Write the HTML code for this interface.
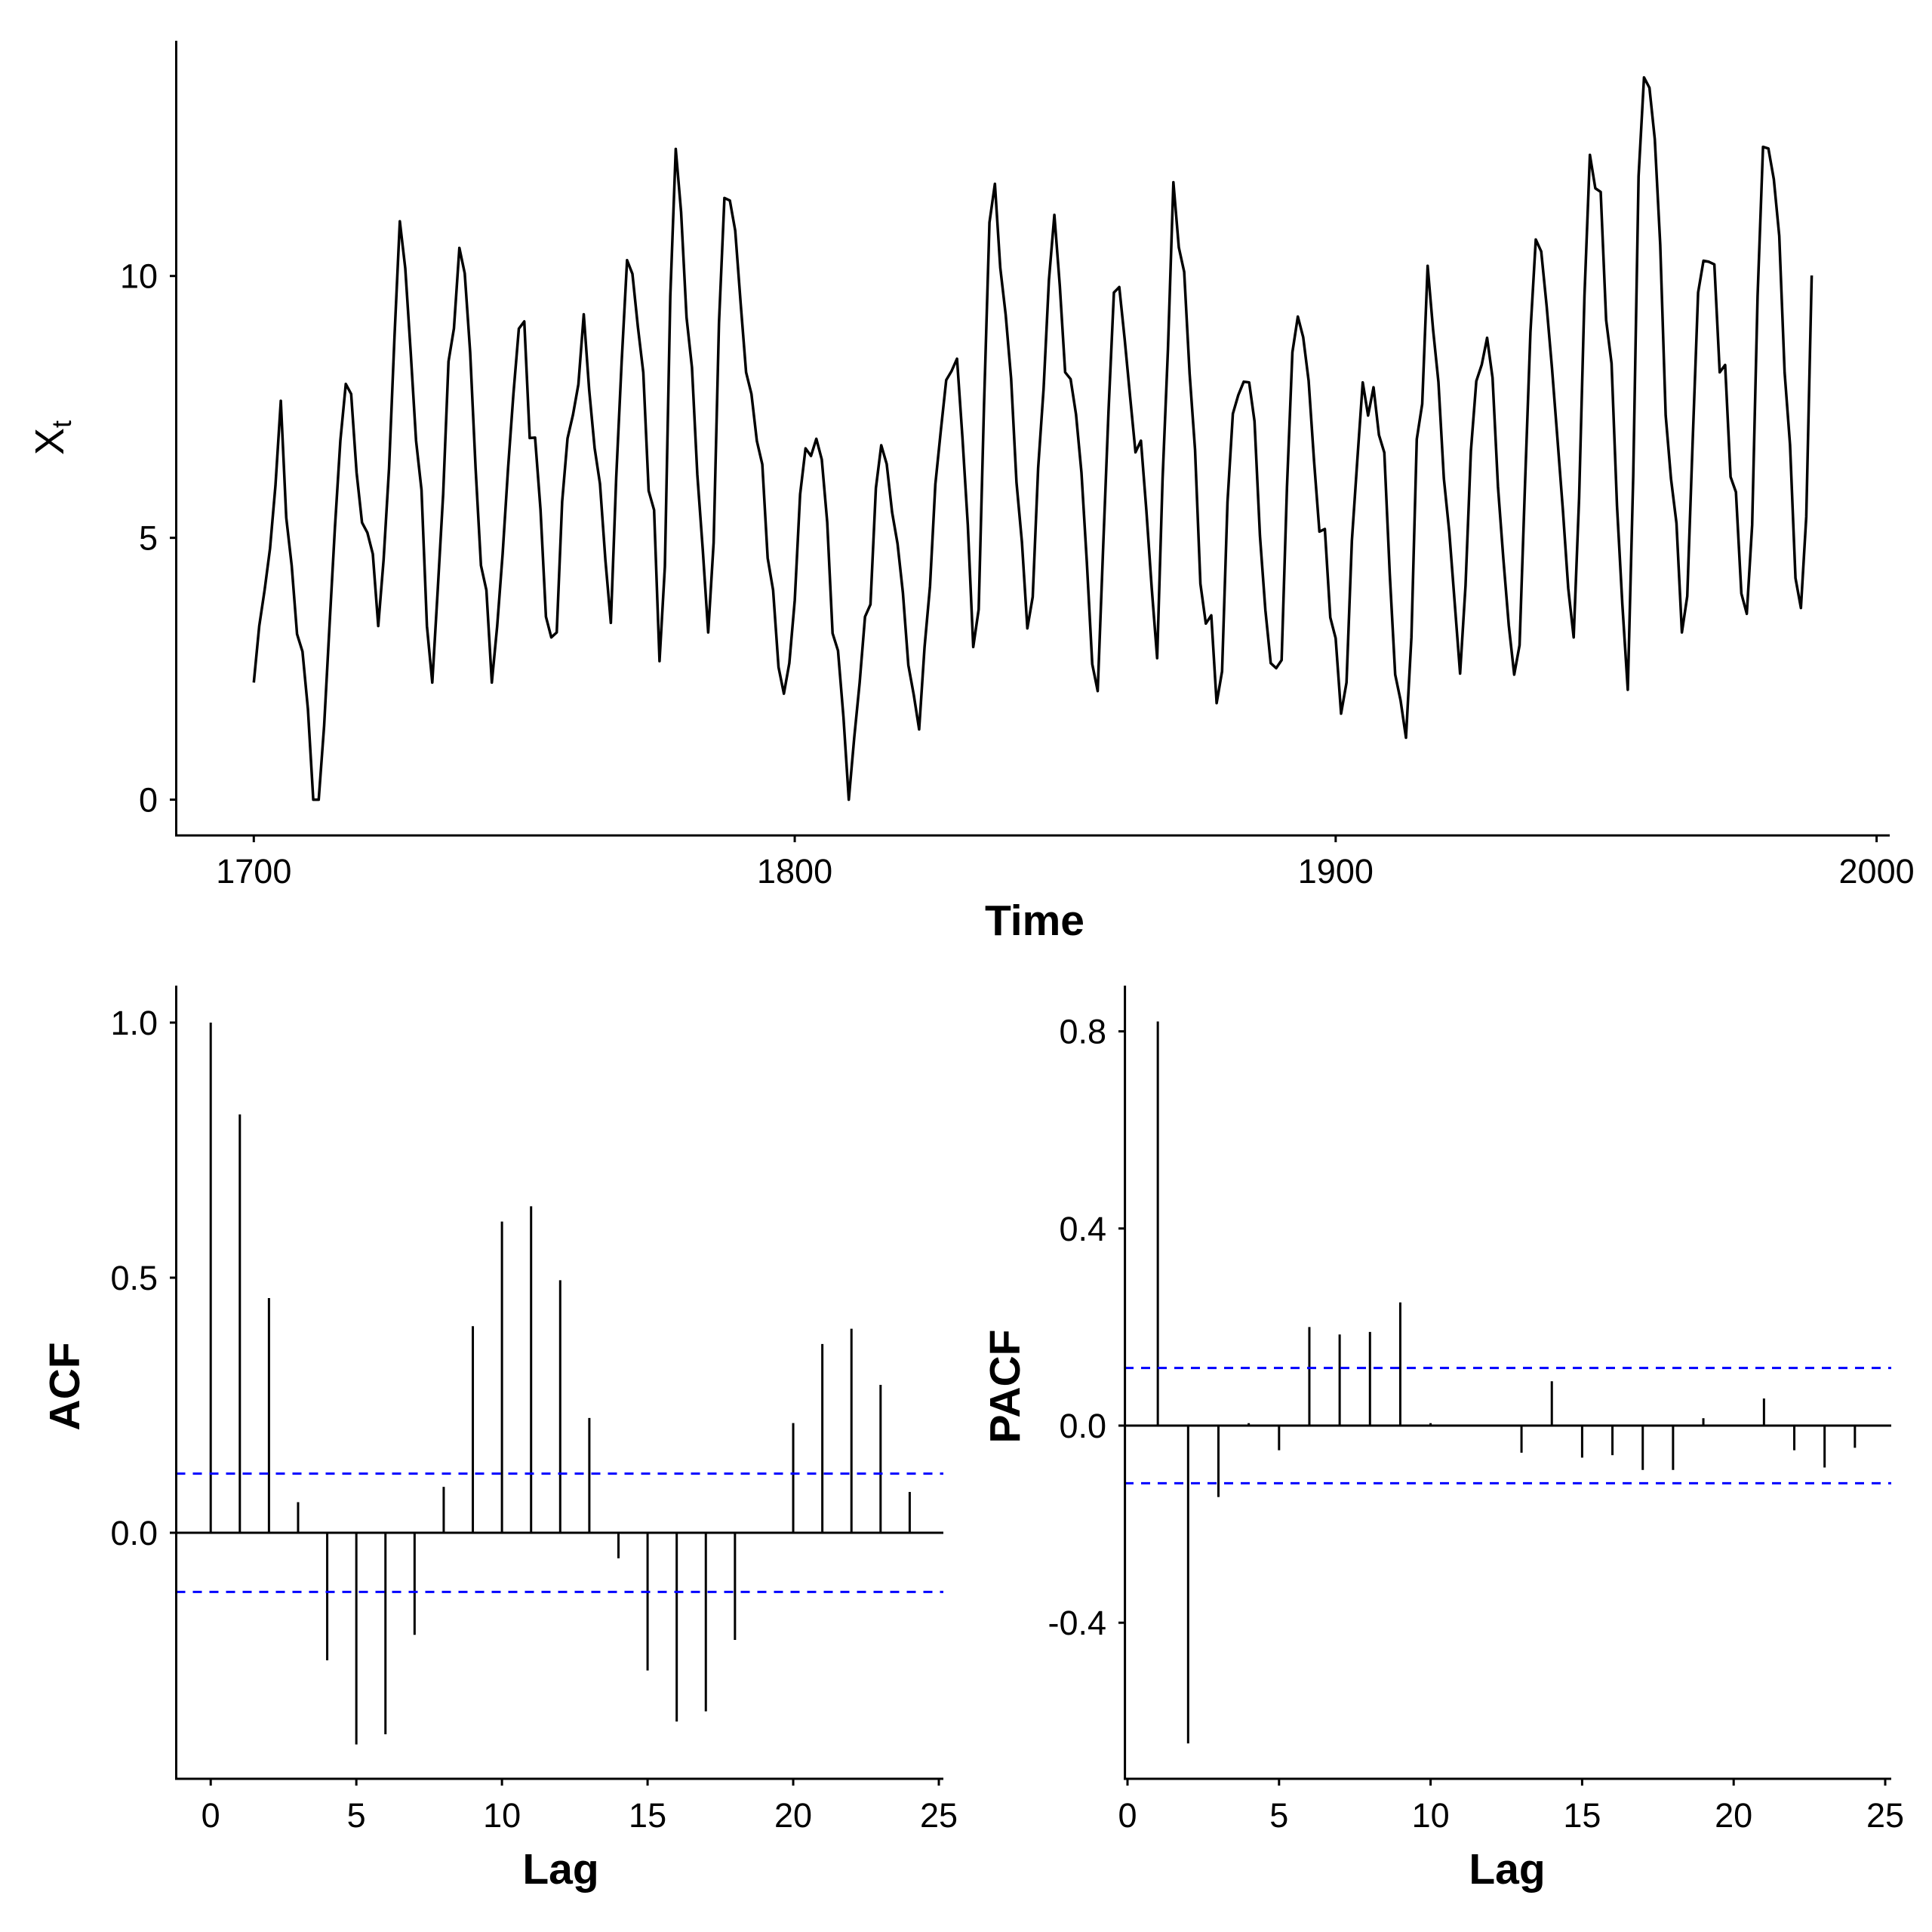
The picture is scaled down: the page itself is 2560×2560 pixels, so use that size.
<!DOCTYPE html>
<html><head><meta charset="utf-8"><style>html,body{margin:0;padding:0;background:#fff}svg{display:block}text{font-family:"Liberation Sans",Arial,sans-serif;fill:#000}</style></head>
<body>
<svg id="s" width="2560" height="2560" viewBox="0 0 2560 2560" xmlns="http://www.w3.org/2000/svg"></svg>
<script>
const d=[5,11,16,23,36,58,29,20,10,8,3,0,0,2,11,27,47,63,60,39,28,26,22,11,21,40,78,122,103,73,47,35,11,5,16,34,70,81,111,101,73,40,20,16,5,11,22,40,60,80.9,83.4,47.7,47.8,30.7,12.2,9.6,10.2,32.4,47.6,54.0,62.9,85.9,61.2,45.1,36.4,20.9,11.4,37.8,69.8,106.1,100.8,81.6,66.5,34.8,30.6,7.0,19.8,92.5,154.4,125.9,84.8,68.1,38.5,22.8,10.2,24.1,82.9,132.0,130.9,118.1,89.9,66.6,60.0,46.9,41.0,21.3,16.0,6.4,4.1,6.8,14.5,34.0,45.0,43.1,47.5,42.2,28.1,10.1,8.1,2.5,0.0,1.4,5.0,12.2,13.9,35.4,45.8,41.1,30.1,23.9,15.6,6.6,4.0,1.8,8.5,16.6,36.3,49.6,64.2,67.0,70.9,47.8,27.5,8.5,13.2,56.9,121.5,138.3,103.2,85.7,64.6,36.7,24.2,10.7,15.0,40.1,61.5,98.5,124.7,96.3,66.6,64.5,54.1,39.0,20.6,6.7,4.3,22.7,54.8,93.8,95.8,77.2,59.1,44.0,47.0,30.5,16.3,7.3,37.6,74.0,139.0,111.2,101.6,66.2,44.7,17.0,11.3,12.4,3.4,6.0,32.3,54.3,59.7,63.7,63.5,52.2,25.4,13.1,6.8,6.3,7.1,35.6,73.0,85.1,78.0,64.0,41.8,26.2,26.7,12.1,9.5,2.7,5.0,24.4,42.0,63.5,53.8,62.0,48.5,43.9,18.6,5.7,3.6,1.4,9.6,47.4,57.1,103.9,80.6,63.6,37.6,26.1,14.2,5.8,16.7,44.3,63.9,69.0,77.8,64.9,35.7,21.2,11.1,5.7,8.7,36.1,79.7,114.4,109.6,88.8,67.8,47.5,30.6,16.3,9.6,33.2,92.6,151.6,136.3,134.7,83.9,69.4,31.5,13.9,4.4,38.0,141.7,190.2,184.8,159.0,112.3,53.9,37.5,27.9,10.2,15.1,47.0,93.8,105.9,105.5,104.5,66.6,68.9,38.0,34.5,15.5,12.6,27.5,92.5,155.4,154.6,140.4,115.9,66.6,45.9,17.9,13.4,29.2,100.2];
let h='';
const L=(x1,y1,x2,y2,w=3,c='#000',da='')=>h+=`<line x1="${x1}" y1="${y1}" x2="${x2}" y2="${y2}" stroke="${c}" stroke-width="${w}" ${da?`stroke-dasharray="${da}"`:''}/>`;
const T=(x,y,t,a='middle',fs=45,b='',r='')=>h+=`<text x="${x}" y="${y}" font-size="${fs}" text-anchor="${a}" ${b?'font-weight="bold"':''} ${r}>${t}</text>`;
const tx=y=>336.3+(y-1700)*(2486.6-336.3)/300, ty=v=>1059.6-v*(1059.6-365.7)/10;
let p=d.map((v,i)=>`${tx(1700+i).toFixed(1)},${ty(Math.sqrt(v)).toFixed(1)}`).join(' ');
h+=`<polyline points="${p}" fill="none" stroke="#000" stroke-width="3.5" stroke-linejoin="round"/>`;
L(233.5,54,233.5,1108);L(232,1107,2504,1107);
[0,5,10].forEach(v=>{L(225,ty(v),233.5,ty(v));T(209,ty(v)+16,v,'end');});
[1700,1800,1900,2000].forEach(y=>{L(tx(y),1107,tx(y),1116);T(tx(y),1170,y);});
T(1371,1239,'Time','middle',57,1);
h+=`<text x="84" y="580" font-size="54" transform="rotate(-90 84 580)" text-anchor="middle">X<tspan font-size="36" dy="10">t</tspan></text>`;
const acf=[1,.82,.46,.06,-.25,-.415,-.395,-.2,.09,.405,.61,.64,.495,.225,-.05,-.27,-.37,-.35,-.21,0,.215,.37,.4,.29,.08];
const ax=k=>279.2+k*(1244-279.2)/25, ay=v=>2031-v*676;
acf.forEach((v,k)=>L(ax(k),ay(0),ax(k),ay(v)));
L(233.5,ay(0),1250,ay(0));
L(233.5,ay(.116),1250,ay(.116),3,'#00f','12,10');L(233.5,ay(-.116),1250,ay(-.116),3,'#00f','12,10');
L(233.5,1306,233.5,2358);L(232,2357,1250,2357);
[[0,'0.0'],[.5,'0.5'],[1,'1.0']].forEach(([v,s])=>{L(225,ay(v),233.5,ay(v));T(209,ay(v)+16,s,'end');});
[0,5,10,15,20,25].forEach(k=>{L(ax(k),2357,ax(k),2366);T(ax(k),2421,k);});
T(743,2496,'Lag','middle',57,1);
T(85,1837,'ACF','middle',57,1,'transform="rotate(-90 85 1837)" dy="20"');
const pa=[.82,-.645,-.145,.005,-.05,.2,.185,.19,.25,.005,0,0,-.055,.09,-.065,-.06,-.09,-.09,.015,0,.055,-.05,-.085,-.045];
const bx=k=>1494+k*(2498-1494)/25, by=v=>1889-v*(1889-1366.6)/.8;
pa.forEach((v,i)=>L(bx(i+1),by(0),bx(i+1),by(v)));
L(1490,by(0),2506,by(0));
L(1490,by(.117),2506,by(.117),3,'#00f','12,10');L(1490,by(-.117),2506,by(-.117),3,'#00f','12,10');
L(1490.6,1306,1490.6,2358);L(1489,2357,2506,2357);
[[-.4,'-0.4'],[0,'0.0'],[.4,'0.4'],[.8,'0.8']].forEach(([v,s])=>{L(1482,by(v),1490.6,by(v));T(1466,by(v)+16,s,'end');});
[0,5,10,15,20,25].forEach(k=>{L(bx(k),2357,bx(k),2366);T(bx(k),2421,k);});
T(1997,2496,'Lag','middle',57,1);
T(1331,1837,'PACF','middle',57,1,'transform="rotate(-90 1331 1837)" dy="20"');
document.getElementById('s').innerHTML=h;
</script>
</body></html>
